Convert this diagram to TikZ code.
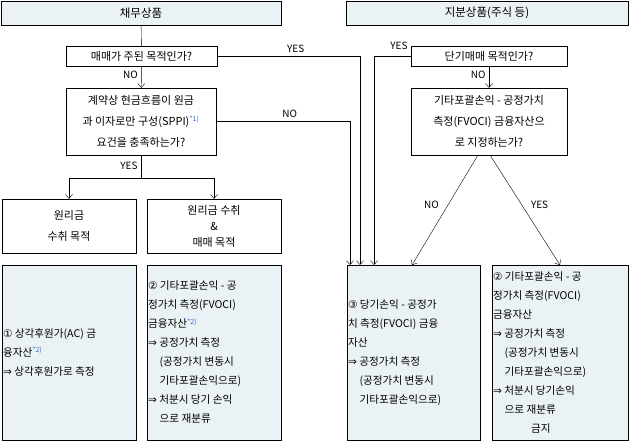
\documentclass[tikz,border=0pt]{standalone}
\usepackage{fontspec}
\setmainfont{Noto Sans CJK KR}
\newfontfamily\symfont{DejaVu Sans}
\usetikzlibrary{arrows.meta}
\definecolor{boxfill}{HTML}{EAF2F5}
\definecolor{notecol}{HTML}{3070D0}
\newcommand{\nt}[1]{\textsuperscript{\color{notecol}\scriptsize #1}}
\tikzset{
  qbox/.style={draw, fill=white, align=center, font=\fontsize{11}{21}\selectfont, inner sep=0pt},
  headbox/.style={draw, fill=boxfill, font=\fontsize{11.5}{13}\selectfont},
  resbox/.style={draw, fill=boxfill, inner sep=0pt},
  restext/.style={anchor=west, align=left, font=\fontsize{10.6}{19}\selectfont, inner sep=1pt},
  flow/.style={-{Straight Barb[length=4pt,width=7pt]}},
  lbl/.style={font=\fontsize{10}{11}\selectfont}
}
\begin{document}
\begin{tikzpicture}[x=1pt,y=-1pt]
  \useasboundingbox (0,0) rectangle (630,442);

  % head boxes
  \node[headbox, minimum width=280, minimum height=24] (debt) at (141,13) {채무상품};
  \node[headbox, minimum width=282, minimum height=24] (equity) at (487,13) {지분상품(주식 등)};

  % questions
  \node[qbox, minimum width=151, minimum height=20] (trade) at (141.5,56) {매매가 주된 목적인가?};
  \node[qbox, minimum width=150, minimum height=67] (sppi) at (141,121.5) {계약상 현금흐름이 원금\\과 이자로만 구성(SPPI)\nt{*1)}\\요건을 충족하는가?};
  \node[qbox, minimum width=156, minimum height=20] (short) at (489,56) {단기매매 목적인가?};
  \node[qbox, minimum width=156, minimum height=67] (fvoci) at (489,121.5) {기타포괄손익 - 공정가치\\측정(FVOCI) 금융자산으\\로 지정하는가?};

  % business model
  \node[qbox, minimum width=134, minimum height=54] (hold) at (69,226) {원리금\\수취 목적};
  \node[qbox, minimum width=134, minimum height=54, font=\fontsize{11}{16}\selectfont] (sell) at (214,226) {원리금 수취\\\&\\매매 목적};

  % results
  \node[resbox, minimum width=134, minimum height=175] (ac) at (69,352.5) {};
  \node[resbox, minimum width=134, minimum height=175] (ocid) at (214,352.5) {};
  \node[resbox, minimum width=133, minimum height=175] (pl) at (413.5,352.5) {};
  \node[resbox, minimum width=136, minimum height=175] (ocie) at (560,352.5) {};

  \node[restext] at (ac.west) {{\symfont ①} 상각후원가(AC) 금\\융자산\nt{*2)}\\{\symfont ⇒} 상각후원가로 측정};
  \node[restext] at (ocid.west) {{\symfont ②} 기타포괄손익 - 공\\정가치 측정(FVOCI)\\금융자산\nt{*2)}\\{\symfont ⇒} 공정가치 측정\\\hspace{1.1em}(공정가치 변동시\\\hspace{1.1em}기타포괄손익으로)\\{\symfont ⇒} 처분시 당기 손익\\\hspace{1.1em}으로 재분류};
  \node[restext] at (pl.west) {{\symfont ③} 당기손익 - 공정가\\치 측정(FVOCI) 금융\\자산\\{\symfont ⇒} 공정가치 측정\\\hspace{1.1em}(공정가치 변동시\\\hspace{1.1em}기타포괄손익으로)};
  \node[restext] at (ocie.west) {{\symfont ②} 기타포괄손익 - 공\\정가치 측정(FVOCI)\\금융자산\\{\symfont ⇒} 공정가치 측정\\\hspace{1.1em}(공정가치 변동시\\\hspace{1.1em}기타포괄손익으로)\\{\symfont ⇒} 처분시 당기손익\\\hspace{1.1em}으로 재분류\\\hspace{3.6em}금지};

  % connectors
  \draw (debt) -- (trade);
  \draw[flow] (trade) -- node[lbl, left, pos=0.4] {NO} (sppi);
  \draw[flow] (short) -- node[lbl, left, pos=0.4] {NO} (fvoci);
  \draw (sppi.south) -- ++(0,23) coordinate (split) node[lbl, pos=0.45, left] {YES};
  \draw[flow] (split) -| (hold.north);
  \draw[flow] (split) -| (sell.north);
  \draw[flow] (trade.east) -- node[lbl, above, pos=0.55] {YES} (360,56) -- (360,265);
  \draw[flow] (sppi.east) -- node[lbl, above, pos=0.55] {NO} (350,121.5) -- (350,265);
  \draw[flow] (short.west) -- (374,56) -- (374,265);
  \node[lbl] at (399,46) {YES};
  \draw[flow] (478,155) -- node[lbl, pos=0.45, left=6pt] {NO} (412,265);
  \draw[flow] (490,155) -- node[lbl, pos=0.45, right=6pt] {YES} (560,265);
\end{tikzpicture}
\end{document}
